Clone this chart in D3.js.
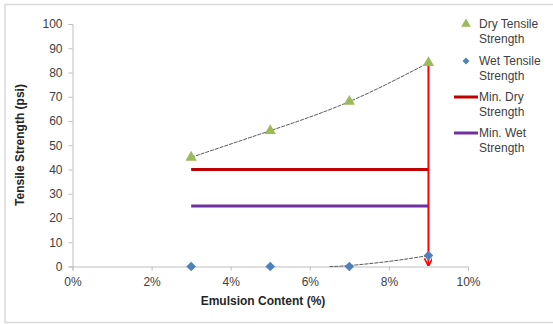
<!DOCTYPE html>
<html>
<head>
<meta charset="utf-8">
<script src="https://cdn.jsdelivr.net/npm/d3@7"></script>
<style>
  body { margin: 0; background: #fff; }
  svg { font-family: "Liberation Sans", Arial, sans-serif; }
  .tick text { font-size: 12px; fill: #404040; }
  .legend text { font-size: 12px; fill: #404040; }
</style>
</head>
<body>
<div id="chart"></div>
<script>
// Emulsion content (%) and tensile strengths (psi)
const emulsion = [3, 5, 7, 9];
const dryStrength = [45, 56, 68, 84];
const wetStrength = [0, 0, 0, 4.5];
const wetTrend = [[6.5, 0], [7, 0.4], [8, 2.1], [9, 4.5]];
const minDry = 40;
const minWet = 25;
const xTicks = [0, 2, 4, 6, 8, 10];
const yTicks = [0, 10, 20, 30, 40, 50, 60, 70, 80, 90, 100];

const W = 553, H = 324;
const margin = { top: 24, left: 72.5 };
const width = 468 - margin.left;
const height = 266.5 - margin.top;

const root = d3.select("#chart").append("svg")
    .attr("width", W)
    .attr("height", H);

// Chart frame (right edge falls outside the picture)
root.append("rect")
    .attr("x", 5).attr("y", 4.5)
    .attr("width", 560).attr("height", 318)
    .attr("fill", "none")
    .attr("stroke", "#d9d9d9")
    .attr("stroke-width", 1.5);

const defs = root.append("defs");
defs.append("marker")
    .attr("id", "arrow")
    .attr("viewBox", "0 0 10 10")
    .attr("refX", 9).attr("refY", 5)
    .attr("markerWidth", 4).attr("markerHeight", 4)
    .attr("orient", "auto")
    .append("path")
    .attr("d", "M0,0 L10,5 L0,10")
    .attr("fill", "none")
    .attr("stroke", "#ff0000")
    .attr("stroke-width", 2);

const svg = root.append("g")
    .attr("transform", `translate(${margin.left}, ${margin.top})`);

const xScale = d3.scaleLinear().domain([0, 10]).range([0, width]);
const yScale = d3.scaleLinear().domain([0, 100]).range([height, 0]);

// Axes
const xAxis = svg.append("g")
    .attr("transform", `translate(0, ${height})`)
    .call(d3.axisBottom(xScale).tickValues(xTicks).tickFormat(d => d + "%").tickSize(4).tickPadding(7));
const yAxis = svg.append("g")
    .call(d3.axisLeft(yScale).tickValues(yTicks).tickSize(4).tickPadding(6));
[xAxis, yAxis].forEach(a => {
    a.select(".domain").attr("stroke", "#bfbfbf");
    a.selectAll(".tick line").attr("stroke", "#bfbfbf");
});

// Trendlines
const trend = d3.line().x(d => xScale(d[0])).y(d => yScale(d[1])).curve(d3.curveNatural);
svg.append("path")
    .datum(emulsion.map((e, i) => [e, dryStrength[i]]))
    .attr("d", trend)
    .attr("fill", "none")
    .attr("stroke", "#595959")
    .attr("stroke-width", 1)
    .attr("stroke-dasharray", "4,1");
svg.append("path")
    .datum(wetTrend)
    .attr("d", trend)
    .attr("fill", "none")
    .attr("stroke", "#595959")
    .attr("stroke-width", 1)
    .attr("stroke-dasharray", "4,1");

// Minimum lines
svg.append("line")
    .attr("x1", xScale(emulsion[0])).attr("x2", xScale(emulsion[3]))
    .attr("y1", yScale(minDry)).attr("y2", yScale(minDry))
    .attr("stroke", "#c00000").attr("stroke-width", 3);
svg.append("line")
    .attr("x1", xScale(emulsion[0])).attr("x2", xScale(emulsion[3]))
    .attr("y1", yScale(minWet)).attr("y2", yScale(minWet))
    .attr("stroke", "#7030a0").attr("stroke-width", 3);

// Red arrow at 9%
svg.append("line")
    .attr("x1", xScale(emulsion[3])).attr("x2", xScale(emulsion[3]))
    .attr("y1", yScale(dryStrength[3])).attr("y2", yScale(0) - 1)
    .attr("stroke", "#ff0000").attr("stroke-width", 2)
    .attr("marker-end", "url(#arrow)");

// Markers
const tri = d3.symbol().type(d3.symbolTriangle).size(55);
const sq = d3.symbol().type(d3.symbolSquare).size(46);
svg.selectAll(".dry").data(dryStrength).join("path")
    .attr("d", tri)
    .attr("transform", (d, i) => `translate(${xScale(emulsion[i])}, ${yScale(d)})`)
    .attr("fill", "#9bbb59");
svg.selectAll(".wet").data(wetStrength).join("path")
    .attr("d", sq)
    .attr("transform", (d, i) => `translate(${xScale(emulsion[i])}, ${yScale(d)}) rotate(45)`)
    .attr("fill", "#4f81bd");

// Axis titles
root.append("text")
    .attr("x", 263).attr("y", 305)
    .attr("text-anchor", "middle")
    .style("font-size", "12px").style("font-weight", "bold").attr("fill", "#262626")
    .text("Emulsion Content (%)");
root.append("text")
    .attr("transform", "rotate(-90)")
    .attr("x", -145).attr("y", 24)
    .attr("text-anchor", "middle")
    .style("font-size", "12px").style("font-weight", "bold").attr("fill", "#262626")
    .text("Tensile Strength (psi)");

// Legend
const legend = root.append("g").attr("class", "legend");
const items = [
    { label: ["Dry Tensile", "Strength"], y: 24, kind: "tri" },
    { label: ["Wet Tensile", "Strength"], y: 61, kind: "dia" },
    { label: ["Min. Dry", "Strength"], y: 97, kind: "line", color: "#c00000" },
    { label: ["Min. Wet", "Strength"], y: 133, kind: "line", color: "#7030a0" }
];
items.forEach(it => {
    if (it.kind === "tri") {
        legend.append("path").attr("d", d3.symbol().type(d3.symbolTriangle).size(40))
            .attr("transform", `translate(466, ${it.y})`).attr("fill", "#9bbb59");
    } else if (it.kind === "dia") {
        legend.append("path").attr("d", d3.symbol().type(d3.symbolSquare).size(24))
            .attr("transform", `translate(466, ${it.y}) rotate(45)`).attr("fill", "#4f81bd");
    } else {
        legend.append("line").attr("x1", 454).attr("x2", 478)
            .attr("y1", it.y).attr("y2", it.y)
            .attr("stroke", it.color).attr("stroke-width", 3);
    }
    const t = legend.append("text").attr("x", 479).attr("y", it.y + 4);
    t.append("tspan").attr("x", 479).text(it.label[0]);
    t.append("tspan").attr("x", 479).attr("dy", 14.5).text(it.label[1]);
});
</script>
</body>
</html>
